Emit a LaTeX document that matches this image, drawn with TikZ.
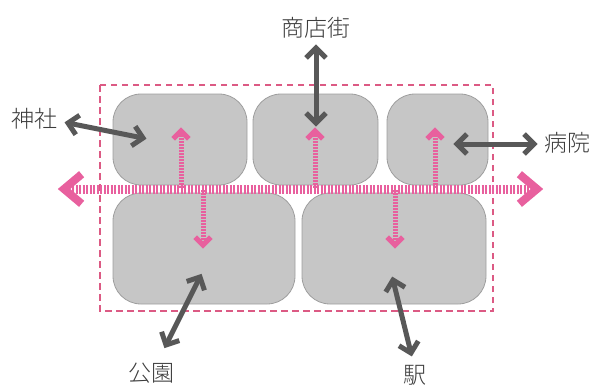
\documentclass[tikz,border=0pt]{standalone}
\usepackage{fontspec}
\IfFontExistsTF{Noto Sans CJK JP Light}
  {\setmainfont{Noto Sans CJK JP Light}}
  {\setmainfont{Noto Sans CJK JP}}
\usetikzlibrary{calc}
\definecolor{boxfill}{HTML}{C6C6C6}
\definecolor{boxline}{HTML}{9E9E9E}
\definecolor{pinkc}{HTML}{E8609E}
\definecolor{framec}{HTML}{DC5A84}
\definecolor{darkc}{HTML}{585858}
\definecolor{textc}{HTML}{3C3C3C}
\tikzset{
  blockbox/.style={draw=boxline, fill=boxfill, line width=0.8pt, rounded corners=28pt, inner sep=0pt},
  lbl/.style={text=textc, font=\fontsize{23}{23}\selectfont, inner sep=0pt},
  mainbar/.style={draw=pinkc, line width=9pt, dash pattern=on 2pt off 1.5pt},
  bigchev/.style={draw=pinkc, line width=8pt, miter limit=10},
  subshaft/.style={draw=pinkc, line width=5pt, dash pattern=on 1.6pt off 1.4pt},
  subchev/.style={draw=pinkc, line width=5pt, miter limit=10},
  linkshaft/.style={draw=darkc, line width=5pt},
  linkchev/.style={draw=darkc, line width=5pt, miter limit=10},
  frame/.style={draw=framec, line width=1.4pt, dash pattern=on 6.5pt off 4.5pt}
}
% chevron at tip #3 pointing away from #2
\newcommand\chevat[5]{\draw[#1] ($(#3)!#4!#5:(#2)$) -- (#3) -- ($(#3)!#4!-#5:(#2)$);}
\newcommand\linkarrow[2]{%
  \draw[linkshaft] ($(#1)!3pt!(#2)$) -- ($(#2)!3pt!(#1)$);
  \chevat{linkchev}{#2}{#1}{14pt}{45}
  \chevat{linkchev}{#1}{#2}{14pt}{45}}
\newcommand\subarrow[2]{%
  \draw[subshaft] (#1) -- ($(#2)!3pt!(#1)$);
  \chevat{subchev}{#1}{#2}{11pt}{45}}
\begin{document}
\begin{tikzpicture}[x=1pt,y=-1pt]
\useasboundingbox (0,0) rectangle (591,389);
% frame
\draw[frame] (100,85) rectangle (493,311);
% blocks
\node[blockbox, minimum width=134pt, minimum height=91pt] (b1) at (180,139.5) {};
\node[blockbox, minimum width=125pt, minimum height=91pt] (b2) at (315.5,139.5) {};
\node[blockbox, minimum width=101pt, minimum height=91pt] (b3) at (437.5,139.5) {};
\node[blockbox, minimum width=182pt, minimum height=111pt] (b4) at (204,248.5) {};
\node[blockbox, minimum width=184pt, minimum height=111pt] (b5) at (394,248.5) {};
% main bar
\coordinate (barL) at (64,189);
\coordinate (barR) at (537,189);
\draw[mainbar] ($(barL)!8pt!(barR)$) -- ($(barR)!6pt!(barL)$);
\chevat{bigchev}{barR}{barL}{23pt}{40}
\chevat{bigchev}{barL}{barR}{23pt}{40}
% sub arrows
\coordinate (u1s) at (181,188); \coordinate (u1e) at (181,131);
\coordinate (u2s) at (315,188); \coordinate (u2e) at (315,131);
\coordinate (u3s) at (435,188); \coordinate (u3e) at (435,131);
\coordinate (d1s) at (203,190); \coordinate (d1e) at (203,245);
\coordinate (d2s) at (395,190); \coordinate (d2e) at (395,245);
\subarrow{u1s}{u1e}
\subarrow{u2s}{u2e}
\subarrow{u3s}{u3e}
\subarrow{d1s}{d1e}
\subarrow{d2s}{d2e}
% labels
\node[lbl] (jinja) at (34.5,119) {神社};
\node[lbl] (shoten) at (316,28) {商店街};
\node[lbl] (byoin) at (567,143) {病院};
\node[lbl] (koen) at (151.5,373) {公園};
\node[lbl] (eki) at (415,375) {駅};
% link arrows
\coordinate (j1) at (68,123); \coordinate (j2) at (143,138);
\coordinate (s1) at (316,48); \coordinate (s2) at (316,123);
\coordinate (h1) at (457,144); \coordinate (h2) at (534,144);
\coordinate (k1) at (166,345); \coordinate (k2) at (200,277);
\coordinate (e1) at (393,280); \coordinate (e2) at (411,353);
\linkarrow{j1}{j2}
\linkarrow{s1}{s2}
\linkarrow{h1}{h2}
\linkarrow{k1}{k2}
\linkarrow{e1}{e2}
\end{tikzpicture}
\end{document}
